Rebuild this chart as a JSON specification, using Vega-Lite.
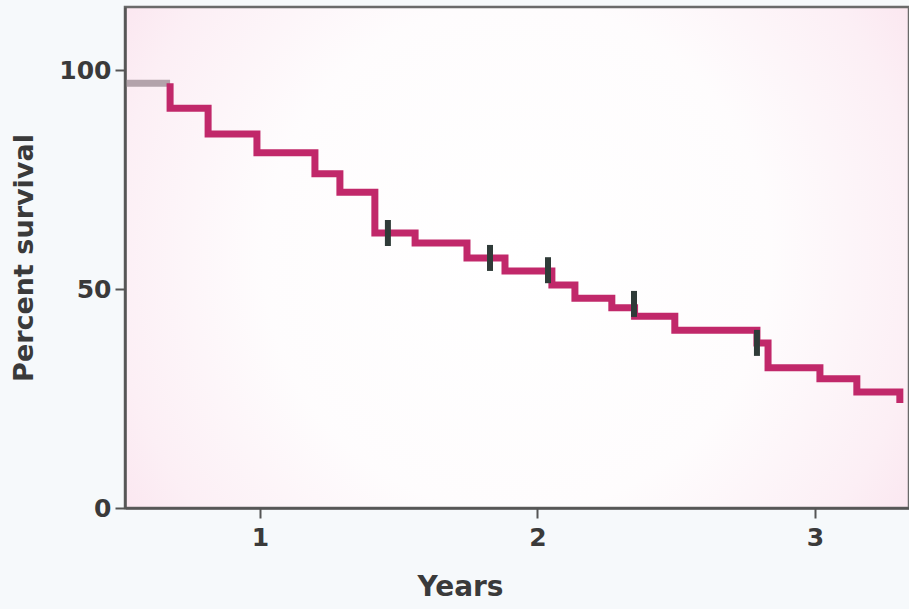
{
  "$schema": "https://vega.github.io/schema/vega-lite/v6.json",
  "width": 784,
  "height": 501,
  "autosize": {"type": "none"},
  "padding": {"left": 125, "top": 7, "right": 0, "bottom": 101},
  "background": "#f6f9fb",
  "config": {
    "font": "DejaVu Sans",
    "view": {
      "fill": {
        "gradient": "radial",
        "x1": 0.5, "y1": 0.5, "r1": 0,
        "x2": 0.5, "y2": 0.5, "r2": 0.72,
        "stops": [
          {"offset": 0, "color": "#ffffff"},
          {"offset": 0.45, "color": "#fefcfd"},
          {"offset": 0.72, "color": "#fceff5"},
          {"offset": 1, "color": "#f9dae8"}
        ]
      },
      "stroke": "#6a6a6a",
      "strokeWidth": 2.5
    }
  },
  "datasets": {
    "gray": [
      {"years": 0.52, "survival": 97.0},
      {"years": 0.676, "survival": 97.0}
    ],
    "km": [
      {"years": 0.676, "survival": 97.0},
      {"years": 0.676, "survival": 91.3},
      {"years": 0.813, "survival": 85.4},
      {"years": 0.989, "survival": 81.1},
      {"years": 1.198, "survival": 76.3},
      {"years": 1.288, "survival": 72.1},
      {"years": 1.414, "survival": 62.8},
      {"years": 1.559, "survival": 60.5},
      {"years": 1.746, "survival": 57.1},
      {"years": 1.883, "survival": 54.1},
      {"years": 2.052, "survival": 50.9},
      {"years": 2.135, "survival": 47.9},
      {"years": 2.268, "survival": 45.7},
      {"years": 2.35, "survival": 43.8},
      {"years": 2.495, "survival": 40.6},
      {"years": 2.791, "survival": 37.7},
      {"years": 2.831, "survival": 32.0},
      {"years": 3.018, "survival": 29.5},
      {"years": 3.151, "survival": 26.5},
      {"years": 3.306, "survival": 24.0}
    ],
    "censor": [
      {"years": 1.461, "survival": 62.8},
      {"years": 1.829, "survival": 57.1},
      {"years": 2.038, "survival": 54.3},
      {"years": 2.348, "survival": 46.6},
      {"years": 2.791, "survival": 37.7}
    ]
  },
  "encoding": {
    "x": {
      "field": "years",
      "type": "quantitative",
      "scale": {"domain": [0.5135, 3.339], "nice": false, "zero": false},
      "axis": {
        "values": [1, 2, 3],
        "title": "Years",
        "grid": false,
        "domainColor": "#555555",
        "domainWidth": 2.5,
        "tickColor": "#555555",
        "tickWidth": 2,
        "tickSize": 10,
        "labelPadding": 7,
        "labelFontSize": 25,
        "labelFontWeight": "bold",
        "labelColor": "#3a3a3a",
        "titleFontSize": 28,
        "titleFontWeight": "bold",
        "titleColor": "#3a3a3a",
        "titleX": 335,
        "titleY": 87,
        "titleAlign": "center",
        "titleBaseline": "alphabetic"
      }
    },
    "y": {
      "field": "survival",
      "type": "quantitative",
      "scale": {"domain": [0, 114.4], "nice": false},
      "axis": {
        "values": [0, 50, 100],
        "title": "Percent survival",
        "grid": false,
        "domainColor": "#555555",
        "domainWidth": 2.5,
        "tickColor": "#555555",
        "tickWidth": 2,
        "tickSize": 10,
        "labelPadding": 4,
        "labelFontSize": 25,
        "labelFontWeight": "bold",
        "labelColor": "#3a3a3a",
        "titleFontSize": 27,
        "titleFontWeight": "bold",
        "titleColor": "#3a3a3a",
        "titlePadding": 20
      }
    }
  },
  "layer": [
    {
      "data": {"name": "gray"},
      "mark": {"type": "line", "color": "#b3a3ab", "strokeWidth": 7},
      "encoding": {}
    },
    {
      "data": {"name": "km"},
      "mark": {"type": "line", "interpolate": "step-after", "color": "#c1286a", "strokeWidth": 7, "strokeJoin": "miter", "strokeCap": "butt"},
      "encoding": {}
    },
    {
      "data": {"name": "censor"},
      "mark": {"type": "tick", "orient": "vertical", "color": "#2f3b38", "thickness": 6, "size": 26, "opacity": 1},
      "encoding": {}
    }
  ]
}
